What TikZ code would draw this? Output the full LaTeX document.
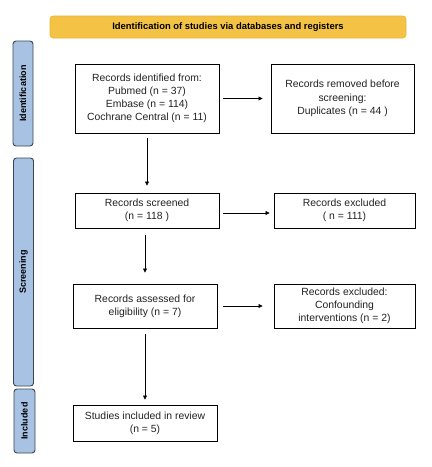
\documentclass[tikz,border=0pt]{standalone}
\usepackage{fontspec}
\setmainfont{Liberation Sans}
\newfontfamily\lblfont{Liberation Sans}
\usetikzlibrary{arrows.meta,calc}
\definecolor{sideblue}{HTML}{A8C2E4}
\definecolor{sideedge}{HTML}{3C4652}
\definecolor{bannery}{HTML}{F4C346}
\definecolor{banneredge}{HTML}{E7B537}
\definecolor{boxtext}{HTML}{222222}
\begin{document}
\begin{tikzpicture}[x=1pt,y=-1pt,
  flowbox/.style={draw=black,line width=0.9pt,align=center,inner sep=0pt,
    text=boxtext,font=\fontsize{10.4}{13.2}\selectfont},
  sidebox/.style={draw=sideedge,fill=sideblue,line width=0.9pt,rounded corners=3pt,
    minimum width=20pt,inner sep=0pt},
  sidelabel/.style={rotate=90,font=\lblfont\bfseries\fontsize{9}{10}\selectfont},
  arr/.style={-{Triangle[length=4pt,width=4pt]},line width=0.7pt}]
\useasboundingbox (0,0) rectangle (432,467);
% banner
\node[draw=banneredge,fill=bannery,line width=0.6pt,rounded corners=3pt,
  minimum width=356pt,minimum height=22pt,inner sep=0pt,
  font=\lblfont\bfseries\fontsize{9.4}{10}\selectfont] (banner) at (228,27)
  {Identification of studies via databases and registers};
% side boxes
\node[sidebox,minimum height=105pt] (sid) at (23,93.5) {};
\node[sidelabel] (lid) at (sid.center) {Identification};
\node[sidebox,minimum height=228pt] (sscr) at (23.5,272) {};
\node[sidelabel] (lscr) at (sscr.center) {Screening};
\node[sidebox,minimum height=64pt,minimum width=21pt] (sinc) at (24.5,421) {};
\node[sidelabel] (linc) at (sinc.center) {Included};
% flow boxes
\node[flowbox,minimum width=144pt,minimum height=69pt] (b1) at (147,98.5)
  {Records identified from:\\Pubmed (n = 37)\\Embase (n = 114)\\Cochrane Central (n = 11)};
\node[flowbox,minimum width=143pt,minimum height=69pt] (b2) at (342.5,98.5)
  {Records removed before\\screening:\\Duplicates (n = 44 )};
\node[flowbox,minimum width=144pt,minimum height=35pt] (b3) at (147,210.5)
  {Records screened\\(n = 118 )};
\node[flowbox,minimum width=141pt,minimum height=35pt] (b4) at (344.5,210.5)
  {Records excluded\\( n = 111)};
\node[flowbox,minimum width=144pt,minimum height=44pt] (b5) at (145,306)
  {Records assessed for\\eligibility (n = 7)};
\node[flowbox,minimum width=141pt,minimum height=44pt] (b6) at (344.5,306)
  {Records excluded:\\Confounding\\interventions (n = 2)};
\node[flowbox,minimum width=144pt,minimum height=36pt] (b7) at (145,423)
  {Studies included in review\\(n = 5)};
% arrows
\draw[arr,shorten <=4pt,shorten >=8pt] (b1.east) -- (b1.east -| b2.west);
\draw[arr,shorten <=4pt,shorten >=4pt] ($(b3.east)+(0,2.5)$) -- ($(b3.east -| b4.west)+(0,2.5)$);
\draw[arr,shorten <=6pt,shorten >=11pt] (b5.east) -- (b5.east -| b6.west);
\draw[arr,shorten <=5pt,shorten >=7pt] (b1.south) -- (b3.north);
\draw[arr,shorten <=7pt,shorten >=11pt] (b3.south -| b5.north) -- (b5.north);
\draw[arr,shorten <=6pt,shorten >=5pt] (b5.south) -- (b7.north);
\end{tikzpicture}
\end{document}
